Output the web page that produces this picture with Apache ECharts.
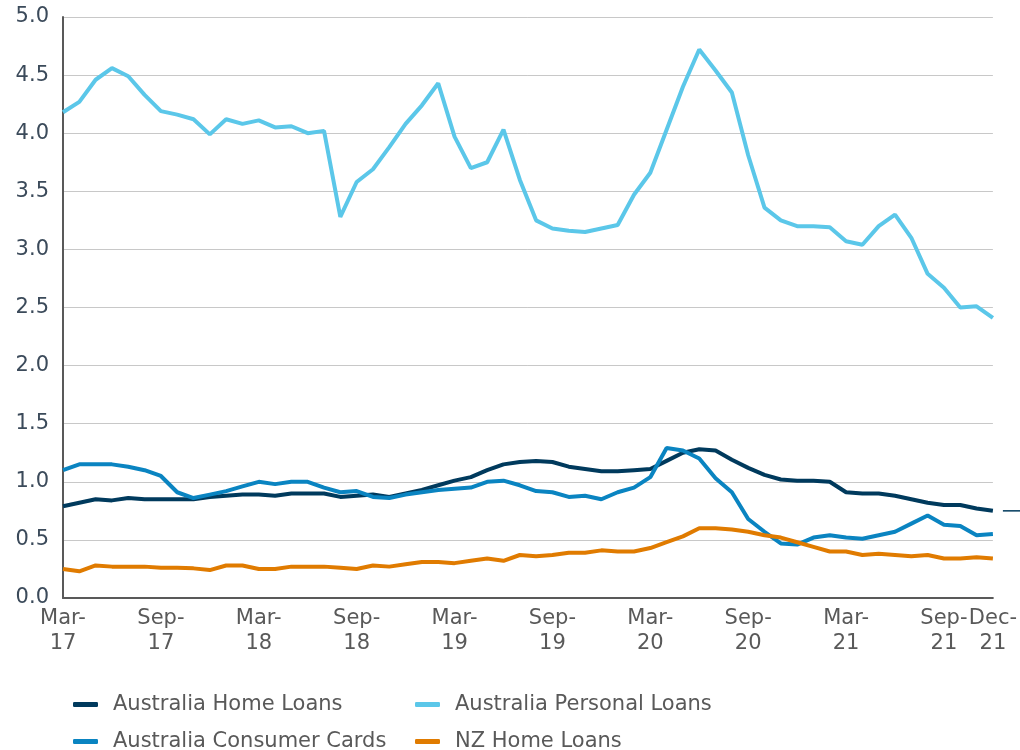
<!DOCTYPE html>
<html>
<head>
<meta charset="utf-8">
<script src="https://cdn.jsdelivr.net/npm/echarts@6/dist/echarts.min.js"></script>
<style>
html,body{margin:0;padding:0;background:#fff;}
#main{width:1020px;height:750px;}
</style>
</head>
<body>
<div id="main"></div>
<script>
// monthly, Mar-17 .. Dec-21
var months = [
	"Mar-17","Apr-17","May-17","Jun-17","Jul-17","Aug-17","Sep-17","Oct-17","Nov-17","Dec-17",
	"Jan-18","Feb-18","Mar-18","Apr-18","May-18","Jun-18","Jul-18","Aug-18","Sep-18","Oct-18","Nov-18","Dec-18",
	"Jan-19","Feb-19","Mar-19","Apr-19","May-19","Jun-19","Jul-19","Aug-19","Sep-19","Oct-19","Nov-19","Dec-19",
	"Jan-20","Feb-20","Mar-20","Apr-20","May-20","Jun-20","Jul-20","Aug-20","Sep-20","Oct-20","Nov-20","Dec-20",
	"Jan-21","Feb-21","Mar-21","Apr-21","May-21","Jun-21","Jul-21","Aug-21","Sep-21","Oct-21","Nov-21","Dec-21"
];
var shownLabels = ["Mar-17","Sep-17","Mar-18","Sep-18","Mar-19","Sep-19","Mar-20","Sep-20","Mar-21","Sep-21","Dec-21"];

var auHome = [
	0.79,0.82,0.85,0.84,0.86,0.85,0.85,0.85,0.85,0.87,0.88,0.89,0.89,0.88,0.90,0.90,0.90,0.87,
	0.88,0.89,0.87,0.90,0.93,0.97,1.01,1.04,1.10,1.15,1.17,1.18,1.17,1.13,1.11,1.09,1.09,1.10,1.11,
	1.18,1.25,1.28,1.27,1.19,1.12,1.06,1.02,1.01,1.01,1.00,0.91,0.90,0.90,0.88,0.85,0.82,0.80,0.80,0.77,0.75
];
var auPersonal = [
	4.18,4.27,4.46,4.56,4.49,4.33,4.19,4.16,4.12,3.99,4.12,4.08,4.11,4.05,4.06,4.00,4.02,3.28,
	3.58,3.69,3.88,4.08,4.24,4.43,3.97,3.70,3.75,4.03,3.60,3.25,3.18,3.16,3.15,3.18,3.21,3.47,3.66,
	4.03,4.40,4.72,4.54,4.35,3.81,3.36,3.25,3.20,3.20,3.19,3.07,3.04,3.20,3.30,3.10,2.79,2.67,2.50,2.51,2.41
];
var auCards = [
	1.10,1.15,1.15,1.15,1.13,1.10,1.05,0.91,0.86,0.89,0.92,0.96,1.00,0.98,1.00,1.00,0.95,0.91,
	0.92,0.87,0.86,0.89,0.91,0.93,0.94,0.95,1.00,1.01,0.97,0.92,0.91,0.87,0.88,0.85,0.91,0.95,1.04,
	1.29,1.27,1.20,1.03,0.91,0.68,0.57,0.47,0.46,0.52,0.54,0.52,0.51,0.54,0.57,0.64,0.71,0.63,0.62,0.54,0.55
];
var nzHome = [
	0.25,0.23,0.28,0.27,0.27,0.27,0.26,0.26,0.255,0.24,0.28,0.28,0.25,0.25,0.27,0.27,0.27,0.26,
	0.25,0.28,0.27,0.29,0.31,0.31,0.30,0.32,0.34,0.32,0.37,0.36,0.37,0.39,0.39,0.41,0.40,0.40,0.43,
	0.48,0.53,0.60,0.60,0.59,0.57,0.54,0.52,0.48,0.44,0.40,0.40,0.37,0.38,0.37,0.36,0.37,0.34,0.34,0.35,0.34
];

var colors = {
	home:"#003a5d",
	personal:"#5bc7e9",
	cards:"#0a84c1",
	nz:"#e07b00"
};
var font = "DejaVu Sans";

function line(name,data,color){
	return {
		name:name,
		type:"line",
		data:data,
		symbol:"none",
		lineStyle:{color:color,width:4},
		itemStyle:{color:color}
	};
}

function legendAt(left,names){
	return {
		orient:"vertical",
		left:left,
		top:694,
		height:70,
		padding:0,
		itemWidth:25,
		itemHeight:5,
		itemGap:16,
		icon:"roundRect",
		data:names,
		textStyle:{fontFamily:font,fontSize:21,color:"#595959",padding:[0,0,0,10]}
	};
}

var myChart = echarts.init(document.getElementById('main'));
var option = {
	animation:false,
	grid:{left:63,right:27,top:17,bottom:152,containLabel:false},
	legend:[
		legendAt(73,["Australia Home Loans","Australia Consumer Cards"]),
		legendAt(415,["Australia Personal Loans","NZ Home Loans"])
	],
	xAxis:{
		type:"category",
		data:months,
		boundaryGap:false,
		axisLine:{lineStyle:{color:"#595959",width:2}},
		axisTick:{show:false},
		axisLabel:{
			interval:function(i,v){ return shownLabels.indexOf(v) >= 0; },
			formatter:function(v){ return v.replace("-","-\n"); },
			fontFamily:font,
			fontSize:21,
			lineHeight:25,
			color:"#595959",
			margin:8
		}
	},
	yAxis:{
		type:"value",
		min:0,
		max:5,
		interval:0.5,
		axisLine:{show:true,lineStyle:{color:"#595959",width:2}},
		axisTick:{show:false},
		splitLine:{lineStyle:{color:"#c8c8c8",width:1}},
		axisLabel:{
			formatter:function(v){ return v.toFixed(1); },
			fontFamily:font,
			fontSize:21,
			color:"#3b4a5a",
			margin:14
		}
	},
	series:[
		line("Australia Home Loans",auHome,colors.home),
		line("Australia Personal Loans",auPersonal,colors.personal),
		line("Australia Consumer Cards",auCards,colors.cards),
		line("NZ Home Loans",nzHome,colors.nz)
	]
};
myChart.setOption(option);

// small marker to the right of the plot at the last home loan value
var last = myChart.convertToPixel({xAxisIndex:0,yAxisIndex:0},[months.length-1,auHome[auHome.length-1]]);
myChart.setOption({
	graphic:[{
		type:"line",
		shape:{x1:last[0]+10,y1:last[1],x2:1020,y2:last[1]},
		style:{stroke:colors.home,lineWidth:1.5}
	}]
});
</script>
</body>
</html>
